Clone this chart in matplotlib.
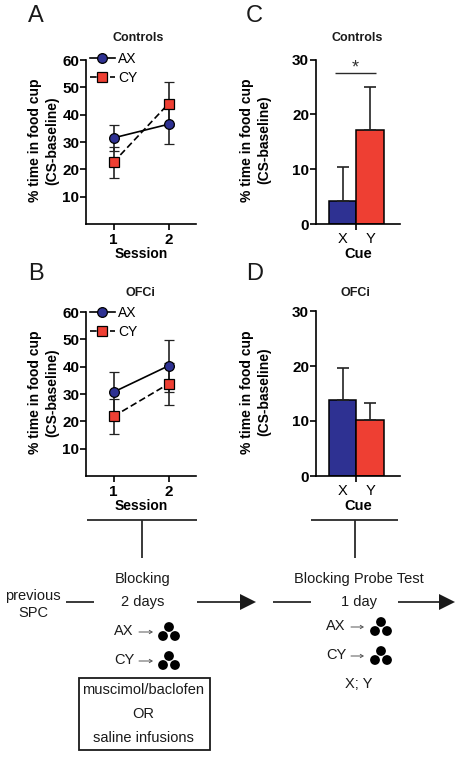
import matplotlib
matplotlib.use('Agg')
import matplotlib.pyplot as plt
from matplotlib.lines import Line2D
from matplotlib.patches import Rectangle, Circle, Polygon

plt.rcParams['font.family'] = ['Liberation Sans', 'DejaVu Sans']

W, H = 461, 757
NAVY = '#2e3192'
RED = '#ee3f33'
DARK = '#222222'

# Dados das sessoes
sessions = [1, 2]
ctrl_ax = [31.5, 36.5]
ctrl_ax_low = [26.7, 29.3]
ctrl_ax_high = [36.2, 43.7]
ctrl_cy = [22.6, 44.0]
ctrl_cy_low = [17.0, 36.0]
ctrl_cy_high = [28.3, 52.1]
ofc_ax = [30.7, 40.3]
ofc_ax_low = [23.2, 30.7]
ofc_ax_high = [38.2, 49.9]
ofc_cy = [21.8, 33.7]
ofc_cy_low = [15.4, 25.8]
ofc_cy_high = [28.1, 41.5]

# Dados das barras
cues = ['X', 'Y']
ctrl_bars = [4.2, 17.2]
ctrl_bars_top = [10.4, 25.0]
ofc_bars = [13.8, 10.1]
ofc_bars_top = [19.6, 13.2]

fig = plt.figure(figsize=(W / 100, H / 100), dpi=100)


def make_axes(left, right, top, bottom):
    ax = fig.add_axes([left / W, 1 - bottom / H, (right - left) / W, (bottom - top) / H])
    ax.patch.set_alpha(0)
    ax.spines['top'].set_visible(False)
    ax.spines['right'].set_visible(False)
    ax.spines['left'].set_linewidth(1.2)
    ax.spines['bottom'].set_linewidth(1.2)
    ax.tick_params(width=1.2, length=4.3, pad=0.5, labelsize=11)
    return ax


def ylabel(ax, x_px, left, right):
    ax.set_ylabel('% time in food cup\n(CS-baseline)', fontsize=10, fontweight='bold', linespacing=1.25)
    ax.yaxis.set_label_coords((x_px - left) / (right - left), 0.51)


def bold_ticks(ax):
    for t in ax.get_yticklabels():
        t.set_fontweight('bold')


def series(ax, y, low, high, color, marker, ls):
    err = [[v - l for v, l in zip(y, low)], [h - v for v, h in zip(y, high)]]
    ax.errorbar(sessions, y, yerr=err, color='black', ecolor=DARK, elinewidth=1.2, capsize=3.8,
                capthick=1.2, lw=1.2, ls=ls, marker=marker, ms=7, mfc=color, mec='black', mew=0.9,
                clip_on=False, dashes=(4, 2) if ls == '--' else (None, None))


def line_panel(top, bottom, legend_top, ax_y, ax_l, ax_h, cy_y, cy_l, cy_h):
    ax = make_axes(86, 196, top, bottom)
    ax.set_xlim(0.5, 2.5)
    ax.set_ylim(0, 60)
    ax.set_yticks([10, 20, 30, 40, 50, 60])
    ax.set_xticks(sessions)
    ax.set_xticklabels(['1', '2'], fontweight='bold')
    ax.tick_params(axis='x', pad=2)
    bold_ticks(ax)
    ax.set_xlabel('Session', fontsize=10, fontweight='bold', labelpad=0)
    ylabel(ax, 59, 86, 196)
    series(ax, cy_y, cy_l, cy_h, RED, 's', '--')
    series(ax, ax_y, ax_l, ax_h, NAVY, 'o', '-')
    handles = [Line2D([], [], color='black', lw=1.2, marker='o', ms=7, mfc=NAVY, mec='black', mew=0.9),
               Line2D([], [], color='black', lw=1.2, ls='--', dashes=(4, 2), marker='s', ms=7, mfc=RED,
                      mec='black', mew=0.9)]
    ax.legend(handles, ['AX', 'CY'], loc='upper left', bbox_to_anchor=(0.036, (bottom - legend_top) / (bottom - top)),
              frameon=False, fontsize=10, handlelength=1.8, handletextpad=0.25, labelspacing=0.33,
              borderpad=0, borderaxespad=0)
    return ax


def bar_panel(top, bottom, values, tops):
    ax = make_axes(315.7, 400, top, bottom)
    ax.set_xlim(-0.975, 2.09)
    ax.set_ylim(0, 30)
    err = [[0, 0], [t - v for t, v in zip(tops, values)]]
    ax.bar([0, 1], values, width=1, color=[NAVY, RED], edgecolor='black', lw=1.1, yerr=err,
           error_kw=dict(ecolor=DARK, elinewidth=1.2, capsize=4.6, capthick=1.2))
    ax.set_yticks([0, 10, 20, 30])
    bold_ticks(ax)
    ax.set_xticks([0, 1])
    ax.set_xticklabels(cues, fontsize=10.5)
    ax.tick_params(axis='x', which='major', length=0, pad=6)
    ax.set_xticks([0.5], minor=True)
    ax.tick_params(axis='x', which='minor', length=4.3, width=1.2)
    ax.set_xlabel('Cue', fontsize=10.5, fontweight='bold', labelpad=0.5)
    ylabel(ax, 271, 315.7, 400)
    return ax


line_panel(60, 224, 52, ctrl_ax, ctrl_ax_low, ctrl_ax_high, ctrl_cy, ctrl_cy_low, ctrl_cy_high)
line_panel(312, 476, 306, ofc_ax, ofc_ax_low, ofc_ax_high, ofc_cy, ofc_cy_low, ofc_cy_high)
bar_panel(59.5, 224, ctrl_bars, ctrl_bars_top)
bar_panel(311, 476, ofc_bars, ofc_bars_top)

# Camada em pixels para os textos e o esquema de baixo
ov = fig.add_axes([0, 0, 1, 1])
ov.set_xlim(0, W)
ov.set_ylim(H, 0)
ov.axis('off')
ov.patch.set_alpha(0)


def txt(x, y, s, size=10.5, weight='normal', ha='center', color='#1a1a1a'):
    ov.text(x, y, s, fontsize=size, fontweight=weight, ha=ha, va='center', color=color)


def seg(x0, y0, x1, y1, lw=1.3, color='#2a2a2a'):
    ov.plot([x0, x1], [y0, y1], color=color, lw=lw, solid_capstyle='butt')


def arrow_right(x0, x1, xh, y):
    seg(x0, y, xh, y)
    ov.add_patch(Polygon([(xh, y - 8), (x1, y), (xh, y + 8)], closed=True, color='#1a1a1a', lw=0))


def pellets(x, y):
    for dx, dy in [(0, 0), (-6, 9), (6, 9)]:
        ov.add_patch(Circle((x + dx, y + dy), 4.9, color='black', lw=0))


def small_arrow(x0, x1, y):
    ov.annotate('', xy=(x1, y), xytext=(x0, y),
                arrowprops=dict(arrowstyle='->,head_length=0.2,head_width=0.12', color='#555555', lw=0.7,
                                shrinkA=0, shrinkB=0))


for s, x, y in [('A', 28, 16), ('C', 246, 16), ('B', 28, 274), ('D', 246, 274)]:
    txt(x, y, s, size=17, ha='left')

txt(138, 38, 'Controls', size=9, weight='bold')
txt(357, 38, 'Controls', size=9, weight='bold')
txt(140, 293, 'OFCi', size=9, weight='bold')
txt(355, 293, 'OFCi', size=9, weight='bold')

# Significancia
seg(335, 73, 376, 73, lw=1.0)
txt(355, 68, '*', size=13, color='#333333')

# Esquema
seg(87, 520, 197, 520)
seg(142, 520, 142, 558)
seg(311, 520, 398, 520)
seg(355, 520, 355, 558)
seg(66, 602, 94, 602)
seg(273, 602, 311, 602)
arrow_right(197, 256, 240, 602)
arrow_right(398, 455, 439, 602)

txt(33, 596, 'previous')
txt(33, 613, 'SPC')
txt(143, 579, 'Blocking')
txt(143, 602, '2 days')
txt(124, 631, 'AX')
small_arrow(139, 153, 632)
pellets(169, 627)
txt(124, 660, 'CY')
small_arrow(139, 153, 661)
pellets(169, 656)
ov.add_patch(Rectangle((79, 678), 131, 72, fill=False, ec='#1a1a1a', lw=1.3))
txt(143, 690, 'muscimol/baclofen')
txt(143, 714, 'OR')
txt(143, 738, 'saline infusions')

txt(359, 579, 'Blocking Probe Test')
txt(359, 602, '1 day')
txt(336, 626, 'AX')
small_arrow(351, 364, 627)
pellets(381, 622)
txt(336, 655, 'CY')
small_arrow(351, 364, 656)
pellets(381, 651)
txt(359, 684, 'X; Y')

fig.savefig('out.png', dpi=100)
